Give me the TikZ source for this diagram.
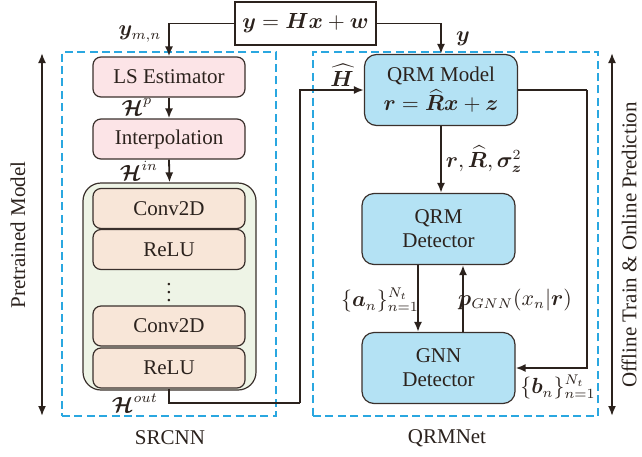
\documentclass[tikz,border=0pt]{standalone}
\usepackage{amsmath,bm}
\usepackage{fontspec}
\setmainfont{Liberation Serif}
\usetikzlibrary{arrows.meta}
\definecolor{ink}{HTML}{2B221D}
\definecolor{edge}{HTML}{3A302C}
\definecolor{pinkfill}{HTML}{FCE4E7}
\definecolor{bluefill}{HTML}{B4E2F4}
\definecolor{greenfill}{HTML}{EEF4E6}
\definecolor{convfill}{HTML}{F8E6D8}
\definecolor{dashblue}{HTML}{2AA7E0}
\begin{document}
\begin{tikzpicture}[x=0.5pt,y=-0.5pt,
  font=\fontsize{10.5}{12}\selectfont,
  tip/.tip={Latex[length=5pt,width=4pt]},
  arr/.style={draw=ink,line width=0.9pt,-tip},
  wire/.style={draw=ink,line width=0.9pt},
  pinkbox/.style={draw=edge,line width=0.6pt,fill=pinkfill,rounded corners=4pt,minimum width=76pt,minimum height=20pt,inner sep=0pt,text=ink},
  convbox/.style={draw=edge,line width=0.6pt,fill=convfill,rounded corners=4pt,minimum width=76pt,minimum height=20pt,inner sep=0pt,text=ink},
  greenbox/.style={draw=edge,line width=0.6pt,fill=greenfill,rounded corners=9pt,minimum width=86.5pt,minimum height=103.5pt,inner sep=0pt},
  bluebox/.style={draw=edge,line width=0.6pt,fill=bluefill,rounded corners=6pt,minimum width=76.5pt,minimum height=35.5pt,inner sep=0pt,align=center,text=ink},
  eqbox/.style={draw=ink,line width=0.7pt,fill=white,minimum width=70.5pt,minimum height=21.5pt,inner sep=0pt,text=ink},
  dashbox/.style={draw=dashblue,line width=0.8pt,dash pattern=on 4pt off 2.2pt,inner sep=0pt},
  lbl/.style={inner sep=0pt,text=ink}
]
\useasboundingbox (0,0) rectangle (642,456);

% dashed frames
\node[dashbox,minimum width=107pt,minimum height=182pt] (srcnn) at (169,234) {};
\node[dashbox,minimum width=142.5pt,minimum height=182pt] (qrmnet) at (455.5,234) {};

% top equation
\node[eqbox] (eq) at (305.5,23.5) {$\bm{y}=\bm{H}\bm{x}+\bm{w}$};

% SRCNN blocks
\node[pinkbox] (ls) at (169,77) {LS Estimator};
\node[pinkbox] (ip) at (169,139) {Interpolation};
\node[greenbox] (cnn) at (169.5,286.5) {};
\node[convbox] (c1) at (169,208.5) {Conv2D};
\node[convbox] (r1) at (169,249.5) {ReLU};
\node[lbl] (dots) at (169,287) {$\vdots$};
\node[convbox] (c2) at (169,326) {Conv2D};
\node[convbox] (r2) at (169,368) {ReLU};

% QRMNet blocks
\node[bluebox] (qm) at (441,90) {QRM Model\\[1pt]$\bm{r}=\widehat{\bm{R}}\bm{x}+\bm{z}$};
\node[bluebox] (qd) at (438.5,229) {QRM\\Detector};
\node[bluebox] (gnn) at (438.5,368) {GNN\\Detector};

% connectors
\draw[arr] (eq.west) -| (ls.north);
\draw[arr] (eq.east) -| (qm.north);
\draw[arr] (ls.south) -- (ip.north);
\draw[arr] (ip.south) -- (cnn.north);
\coordinate (ho) at (300,403);
\draw[wire] (r2.south) |- (ho);
\draw[arr] (ho) |- (qm.west);
\coordinate (fb) at (587,90);
\draw[wire] (qm.east) -- (fb);
\draw[arr] (fb) |- (gnn.east);
\draw[arr] (qm.south) -- (qm.south |- qd.north);
\draw[arr] ([xshift=-10.25pt]qd.south) -- ([xshift=-10.25pt]gnn.north);
\draw[arr] ([xshift=12.25pt]gnn.north) -- ([xshift=12.25pt]qd.south);

% side arrows
\coordinate (lt) at (42,53);
\coordinate (lb) at (42,416);
\draw[wire,tip-tip] (lt) -- (lb);
\coordinate (rt) at (612,53);
\coordinate (rb) at (612,416);
\draw[wire,tip-tip] (rt) -- (rb);
\node[lbl,rotate=90] (pm) at (18,235) {Pretrained Model};
\node[lbl,rotate=90] (op) at (629,245) {Offline Train \& Online Prediction};

% labels
\node[lbl] (lymn) at (140,34) {$\bm{y}_{m,n}$};
\node[lbl] (ly) at (463,39) {$\bm{y}$};
\node[lbl] (lhp) at (137,107) {$\bm{\mathcal{H}}^{p}$};
\node[lbl] (lhin) at (139,171) {$\bm{\mathcal{H}}^{in}$};
\node[lbl] (lhout) at (135,403) {$\bm{\mathcal{H}}^{out}$};
\node[lbl] (lhh) at (342,75) {$\widehat{\bm{H}}$};
\node[lbl] (lr) at (484,159) {$\bm{r},\widehat{\bm{R}},\bm{\sigma}_{\bm{z}}^{2}$};
\node[lbl] (la) at (380,300) {$\{\bm{a}_n\}_{n=1}^{N_t}$};
\node[lbl] (lp) at (515,300) {$\bm{p}_{GNN}(x_n|\bm{r})$};
\node[lbl] (lb2) at (558,387) {$\{\bm{b}_n\}_{n=1}^{N_t}$};
\node[lbl] (ls1) at (170,438) {SRCNN};
\node[lbl] (ls2) at (447,438) {QRMNet};
\end{tikzpicture}
\end{document}
